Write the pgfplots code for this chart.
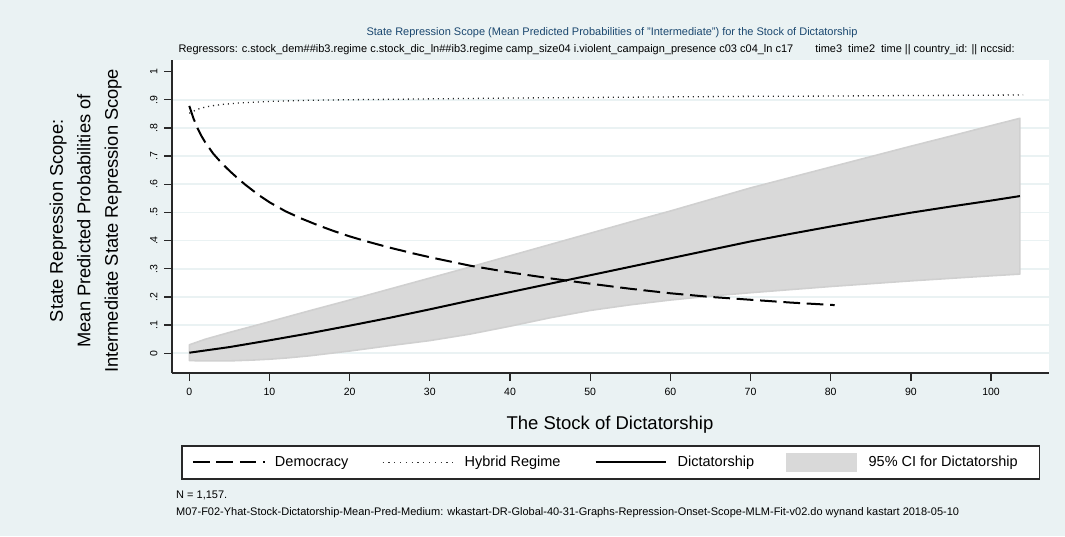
\documentclass[border=0pt]{standalone}
\usepackage{pgfplots}
\pgfplotsset{compat=1.18}
\usepackage{fontspec}
\setmainfont{Liberation Sans}

\definecolor{ltbluishgray}{RGB}{234,242,243}
\definecolor{dknavy}{RGB}{26,71,111}
\definecolor{cifill}{RGB}{217,217,217}
\definecolor{ciedge}{RGB}{208,208,208}
\definecolor{axisgray}{RGB}{40,40,40}

\begin{document}
\begin{tikzpicture}[x=1pt,y=1pt]
\fill[ltbluishgray] (0,0) rectangle (1065,536);
\useasboundingbox (0,0) rectangle (1065,536);

% titles
\node[font=\fontsize{11}{13}\selectfont, text=dknavy] at (612,503)
  {State Repression Scope (Mean Predicted Probabilities of "Intermediate") for the Stock of Dictatorship};
\node[font=\fontsize{11}{13}\selectfont, anchor=west] at (175,486)
  {Regressors: c.stock\_dem\#\#ib3.regime c.stock\_dic\_ln\#\#ib3.regime camp\_size04 i.violent\_campaign\_presence c03 c04\_ln c17\hspace{22pt}time3\hspace{6pt}time2\hspace{6pt}time || country\_id: || nccsid:};

% notes
\node[font=\fontsize{11}{13}\selectfont, anchor=west, inner sep=0pt] at (176,41) {N = 1,157.};
\node[font=\fontsize{11}{13}\selectfont, anchor=west, inner sep=0pt] at (176,23.3)
  {M07-F02-Yhat-Stock-Dictatorship-Mean-Pred-Medium: wkastart-DR-Global-40-31-Graphs-Repression-Onset-Scope-MLM-Fit-v02.do wynand kastart 2018-05-10};

\begin{axis}[
  at={(172pt,163pt)}, anchor=south west,
  width=877pt, height=313pt, scale only axis,
  xmin=-2.16, xmax=107.23, ymin=-0.07, ymax=1.041,
  axis x line*=bottom, axis y line*=left,
  axis line style={axisgray, line width=1.5pt, -},
  axis background/.style={fill=white},
  tick align=outside, major tick length=8pt,
  tick style={axisgray, line width=1.3pt},
  xtick={0,10,...,100},
  ytick={0,0.1,...,0.9},
  yticklabels={0,.1,.2,.3,.4,.5,.6,.7,.8,.9},
  extra y ticks={1}, extra y tick labels={1},
  extra y tick style={grid=none},
  ymajorgrids,
  grid style={ltbluishgray, line width=1.6pt},
  /pgf/number format/assume math mode=true,
  ticklabel style={font=\fontsize{10.5}{12}\selectfont},
  xticklabel style={yshift=-4pt},
  yticklabel style={rotate=90, anchor=south, yshift=3pt},
  xlabel={The Stock of Dictatorship},
  xlabel style={at={(axis description cs:0.4994,-0.166)}, anchor=center,
    font=\fontsize{18.5}{22}\selectfont},
  ylabel={State Repression Scope:\\Mean Predicted Probabilities of\\Intermediate State Repression Scope},
  ylabel style={at={(axis description cs:-0.0986,0.486)}, anchor=center, rotate=0,
    align=center, font=\fontsize{18.3}{27.5}\selectfont},
  legend columns=4,
  legend style={at={(0.0114,-0.2332)}, anchor=north west,
    draw=axisgray, line width=1.3pt, fill=white, inner sep=0pt, outer sep=0pt,
    /tikz/column sep=0pt,
    nodes={inner sep=0pt, anchor=west},
    font=\fontsize{14.5}{17}\selectfont},
]

% 95% confidence band for dictatorship (upper bound forward, lower bound back)
\addplot[fill=cifill, draw=ciedge, line width=1.6pt, line join=round, forget plot] coordinates {
  (0,0.030) (2,0.050) (5,0.074) (10,0.112) (15,0.151) (20,0.189) (25,0.228)
  (30,0.267) (35,0.306) (40,0.346) (45,0.386) (50,0.426) (55,0.466) (60,0.505)
  (65,0.546) (70,0.587) (75,0.624) (80,0.661) (85,0.698) (90,0.735) (95,0.771)
  (100,0.808) (103.6,0.834)
  (103.6,0.281) (100,0.275) (95,0.266) (90,0.257) (85,0.247) (80,0.237)
  (75,0.226) (70,0.215) (65,0.203) (60,0.189) (55,0.172) (50,0.152) (45,0.126)
  (40,0.096) (35,0.068) (30,0.045) (25,0.027) (20,0.008) (15,-0.009)
  (12,-0.017) (10,-0.021) (8,-0.024) (5,-0.027) (2,-0.027) (0,-0.026)
} -- cycle;

% Democracy
\addplot[black, line width=2pt, dash pattern=on 16.7pt off 6.7pt,
  legend image code/.code={
    \path[draw=none, fill=none] (-11pt,-16.5pt) rectangle (82pt,16.5pt);
    \draw[black, line width=2pt, dash pattern=on 16.7pt off 6.7pt] (0pt,0pt) -- (72pt,0pt);}]
coordinates {
  (0,0.878) (0.5,0.835) (1,0.800) (1.5,0.772) (2,0.748) (3,0.708) (4,0.676)
  (5,0.648) (6,0.622) (7,0.598) (8,0.576) (9,0.555) (10,0.536) (12,0.504)
  (14,0.478) (16,0.455) (18,0.434) (20,0.415) (22,0.398) (25,0.375) (28,0.354)
  (30,0.341) (35,0.311) (40,0.287) (45,0.266) (50,0.247) (55,0.229) (60,0.213)
  (65,0.200) (70,0.190) (75,0.180) (80.5,0.171)
};
\addlegendentry{\makebox[107pt][l]{Democracy}}

% Hybrid regime
\addplot[black!85, line width=1.3pt, dash pattern=on 1.1pt off 3.9pt,
  legend image code/.code={
    \path[draw=none, fill=none] (0pt,-16.5pt) rectangle (82pt,16.5pt);
    \draw[black!80, line width=1.3pt, dash pattern=on 1.1pt off 4.7pt] (0pt,0pt) -- (71pt,0pt);}]
coordinates {
  (0,0.852) (1,0.866) (2,0.874) (3,0.879) (4,0.883) (6,0.888) (8,0.891)
  (10,0.894) (15,0.898) (20,0.900) (30,0.903) (40,0.906) (50,0.908) (60,0.910)
  (70,0.912) (80,0.913) (90,0.915) (100,0.916) (104,0.917)
};
\addlegendentry{\makebox[130pt][l]{Hybrid Regime}}

% Dictatorship
\addplot[black, line width=2pt,
  legend image code/.code={
    \path[draw=none, fill=none] (0pt,-16.5pt) rectangle (82pt,16.5pt);
    \draw[black, line width=2pt] (0pt,0pt) -- (70pt,0pt);}]
coordinates {
  (0,0.002) (5,0.022) (10,0.046) (15,0.071) (20,0.098) (25,0.126) (30,0.156)
  (35,0.187) (40,0.217) (45,0.247) (50,0.277) (55,0.307) (60,0.337) (65,0.367)
  (70,0.397) (75,0.424) (80,0.450) (85,0.475) (90,0.499) (95,0.521) (100,0.542)
  (103.6,0.558)
};
\addlegendentry{\makebox[108pt][l]{Dictatorship}}

\addlegendimage{legend image code/.code={
    \path[draw=none, fill=none] (0pt,-16.5pt) rectangle (83pt,16.5pt);
    \fill[cifill, draw=none] (0pt,-9.2pt) rectangle (71pt,9.2pt);}}
\addlegendentry{\makebox[171pt][l]{95\% CI for Dictatorship}}

\end{axis}
\end{tikzpicture}
\end{document}
